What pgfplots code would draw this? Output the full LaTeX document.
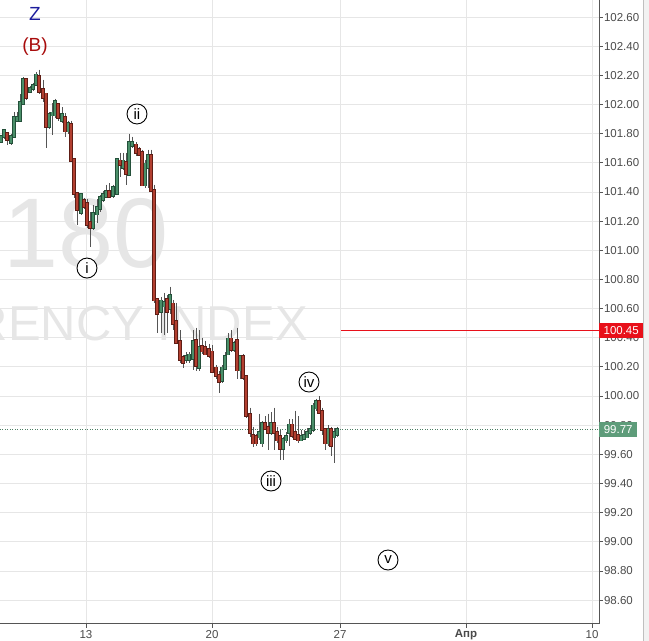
\documentclass[border=0pt]{standalone}
\usepackage{pgfplots}
\pgfplotsset{compat=1.18}
\usepackage{pgfplotstable}
\usepackage{fontspec}
\setmainfont{Liberation Sans}

\definecolor{gup}{HTML}{4A8F69}
\definecolor{gupd}{HTML}{24503A}
\definecolor{rdn}{HTML}{B23F30}
\definecolor{rdnd}{HTML}{5E1D15}
\definecolor{wick}{HTML}{555555}
\definecolor{gridc}{HTML}{E6E6E6}
\definecolor{wm}{HTML}{E6E6E6}
\definecolor{lab}{HTML}{4A4A4A}
\definecolor{zblue}{HTML}{1C1C9C}
\definecolor{bred}{HTML}{A80C0C}
\definecolor{pricered}{HTML}{E8101A}
\definecolor{pricegreen}{HTML}{5E9C7A}

% x o h l c  (bullish 4h candles)
\pgfplotstableread{
x o h l c
1 101.75 101.79 101.74 101.78
4 101.78 101.83 101.76 101.82
11 101.74 101.80 101.72 101.78
14 101.78 101.95 101.77 101.91
17 101.89 101.95 101.88 101.91
20 101.89 102.07 101.88 102.01
23 102.01 102.19 102.00 102.17
30 102.09 102.13 102.08 102.11
33 102.11 102.15 102.09 102.13
36 102.14 102.22 102.13 102.20
49 101.85 101.95 101.83 101.93
52 101.93 102.01 101.79 101.94
55 101.93 102.04 101.91 102.02
62 101.89 101.98 101.87 101.93
68 101.82 101.89 101.80 101.87
81 101.26 101.39 101.24 101.38
93 101.16 101.31 101.14 101.25
97 101.25 101.35 101.19 101.29
100 101.29 101.38 101.26 101.36
103 101.35 101.41 101.33 101.38
106 101.37 101.45 101.36 101.40
113 101.38 101.45 101.36 101.43
117 101.39 101.63 101.38 101.62
123 101.57 101.67 101.55 101.61
129 101.52 101.80 101.51 101.74
132 101.72 101.78 101.70 101.74
145 101.45 101.62 101.43 101.59
148 101.57 101.69 101.43 101.65
161 100.58 100.68 100.43 100.65
164 100.62 100.71 100.42 100.64
170 100.60 100.75 100.56 100.69
186 100.25 100.30 100.23 100.27
189 100.25 100.30 100.23 100.28
193 100.26 100.45 100.18 100.37
199 100.20 100.45 100.17 100.33
222 100.11 100.21 100.09 100.19
225 100.19 100.30 100.18 100.27
228 100.29 100.43 100.28 100.39
234 100.32 100.38 100.30 100.36
240 100.18 100.28 100.12 100.27
259 99.72 99.88 99.70 99.75
262 99.68 99.83 99.65 99.81
271 99.75 99.89 99.73 99.81
283 99.64 99.72 99.56 99.70
286 99.70 99.75 99.68 99.72
289 99.75 99.84 99.66 99.80
301 99.70 99.77 99.69 99.72
304 99.71 99.77 99.70 99.73
307 99.72 99.78 99.71 99.75
310 99.75 99.80 99.73 99.77
313 99.77 99.95 99.75 99.93
316 99.92 99.98 99.90 99.96
328 99.68 99.80 99.66 99.77
334 99.72 99.78 99.54 99.75
337 99.74 99.79 99.72 99.77
}\upcandles

% bearish candles
\pgfplotstableread{
x o h l c
7 101.80 101.81 101.72 101.76
26 102.17 102.18 102.03 102.05
39 102.19 102.24 102.07 102.09
43 102.10 102.17 102.02 102.05
46 102.07 102.08 101.70 101.85
58 102.00 102.01 101.89 101.91
65 101.91 101.94 101.78 101.82
71 101.86 101.89 101.61 101.62
74 101.62 101.62 101.36 101.39
77 101.39 101.40 101.17 101.28
84 101.34 101.36 101.28 101.30
87 101.32 101.35 101.15 101.18
90 101.19 101.26 101.02 101.16
109 101.40 101.46 101.36 101.37
120 101.61 101.67 101.50 101.59
126 101.60 101.67 101.45 101.53
136 101.72 101.74 101.65 101.67
139 101.69 101.71 101.65 101.66
142 101.67 101.69 101.44 101.45
151 101.65 101.69 101.40 101.41
154 101.41 101.45 100.64 100.66
157 100.66 100.67 100.43 100.57
167 100.66 100.69 100.43 100.58
173 100.63 100.66 100.45 100.50
176 100.51 100.64 100.36 100.37
180 100.37 100.45 100.23 100.25
183 100.26 100.28 100.19 100.23
196 100.38 100.47 100.17 100.21
202 100.34 100.40 100.29 100.31
205 100.33 100.38 100.28 100.29
209 100.32 100.36 100.26 100.28
212 100.30 100.35 100.16 100.17
216 100.19 100.21 100.12 100.14
219 100.14 100.17 100.02 100.10
231 100.39 100.45 100.30 100.32
237 100.38 100.47 100.12 100.18
243 100.27 100.29 100.11 100.13
246 100.13 100.14 99.85 99.87
250 99.87 99.92 99.72 99.75
253 99.73 99.79 99.65 99.68
256 99.72 99.74 99.66 99.68
265 99.81 99.86 99.77 99.78
268 99.78 99.88 99.63 99.75
274 99.81 99.92 99.63 99.75
277 99.75 99.79 99.68 99.70
280 99.72 99.77 99.56 99.64
292 99.80 99.84 99.71 99.73
295 99.75 99.90 99.70 99.71
298 99.73 99.86 99.68 99.70
319 99.96 100.00 99.88 99.89
322 99.89 99.92 99.73 99.77
325 99.77 99.78 99.63 99.68
331 99.77 99.79 99.59 99.66
}\downcandles

\pgfplotsset{
  candle/.style n args={3}{draw=none, no markers, forget plot,
    error bars/.cd, y dir=minus, y explicit, error mark=none,
    error bar style={draw=#1, line width=#2, line cap=#3}},
}

\begin{document}
\begin{tikzpicture}
\begin{axis}[
  scale only axis, width=599bp, height=624bp,
  at={(0,0)}, anchor=south west,
  xmin=0, xmax=599, ymin=98.436, ymax=102.717,
  axis x line*=bottom, axis y line*=right,
  axis line style={draw=wick, line width=1bp, -},
  xtick={86,212,340,466,592},
  xticklabels={13,20,27,\textbf{Апр},10},
  ytick={98.6,98.8,99,99.2,99.4,99.6,99.8,100,100.2,100.4,100.6,100.8,101,101.2,101.4,101.6,101.8,102,102.2,102.4,102.6},
  grid=major, major grid style={draw=gridc, line width=0.8bp},
  tick align=outside, major tick length=3.5bp,
  tick style={draw=wick, line width=0.8bp},
  ticklabel style={font=\fontsize{11.5bp}{13bp}\selectfont, text=lab},
  yticklabel style={/pgf/number format/.cd, fixed, fixed zerofill, precision=2, assume math mode=true, /tikz/xshift=-2bp},
  xticklabel style={yshift=1bp},
  clip=false,
]
% watermark
\node[anchor=base east, inner sep=0, text=wm, font=\fontsize{99bp}{99bp}\selectfont] at (axis cs:169,100.88) {180};
\node[anchor=base east, inner sep=0, text=wm, font=\fontsize{49bp}{49bp}\selectfont] at (axis cs:308,100.384) {CURRENCY INDEX};

% dotted last price line and red level
\addplot[draw=pricegreen!80!black, line width=0.7bp, dash pattern=on 1bp off 1.5bp] coordinates {(0,99.77) (599,99.77)};
\addplot[draw=pricered, line width=0.9bp] coordinates {(341,100.45) (599,100.45)};

% wicks
\addplot[candle={wick}{0.9bp}{butt}]
  table[x=x, y=h, y error minus expr=\thisrow{h}-\thisrow{l}] {\upcandles};
\addplot[candle={wick}{0.9bp}{butt}]
  table[x=x, y=h, y error minus expr=\thisrow{h}-\thisrow{l}] {\downcandles};
% bodies: outline
\addplot[candle={gupd}{3.3bp}{rect}]
  table[x=x, y=c, y error minus expr=\thisrow{c}-\thisrow{o}] {\upcandles};
\addplot[candle={rdnd}{3.3bp}{rect}]
  table[x=x, y=o, y error minus expr=\thisrow{o}-\thisrow{c}] {\downcandles};
% bodies: fill
\addplot[candle={gup}{1.7bp}{rect}]
  table[x=x, y=c, y error minus expr=\thisrow{c}-\thisrow{o}] {\upcandles};
\addplot[candle={rdn}{1.7bp}{rect}]
  table[x=x, y=o, y error minus expr=\thisrow{o}-\thisrow{c}] {\downcandles};

% wave labels
\node[text=zblue, font=\fontsize{19bp}{19bp}\selectfont] at (axis cs:35,102.62) {Z};
\node[text=bred, font=\fontsize{19bp}{19bp}\selectfont] at (axis cs:35,102.40) {(B)};
\tikzset{wave/.style={circle, draw=black, line width=0.9bp, inner sep=0, minimum size=20bp, fill=white, font=\fontsize{15bp}{15bp}\selectfont}}
\node[wave] at (axis cs:87,100.878) {i};
\node[wave] at (axis cs:137,101.935) {ii};
\node[wave] at (axis cs:271,99.417) {iii};
\node[wave] at (axis cs:309,100.096) {iv};
\node[wave] at (axis cs:388,98.875) {v};

% price tags on the right scale
\node[anchor=west, fill=pricered, text=white, inner sep=0, minimum width=44bp, minimum height=15bp, font=\fontsize{11.5bp}{13bp}\selectfont] at (axis cs:599,100.45) {100.45};
\node[anchor=west, fill=pricegreen, text=white, inner sep=0, minimum width=38bp, minimum height=15bp, font=\fontsize{11.5bp}{13bp}\selectfont] at (axis cs:599,99.77) {99.77};
\end{axis}
\fill[black!5] (644bp,-17bp) rectangle (649bp,624bp);
\draw[black!25, line width=1bp] (643.5bp,-17bp) -- (643.5bp,624bp);
\pgfresetboundingbox
\path (0,-17bp) rectangle (649bp,624bp);
\end{tikzpicture}
\end{document}
